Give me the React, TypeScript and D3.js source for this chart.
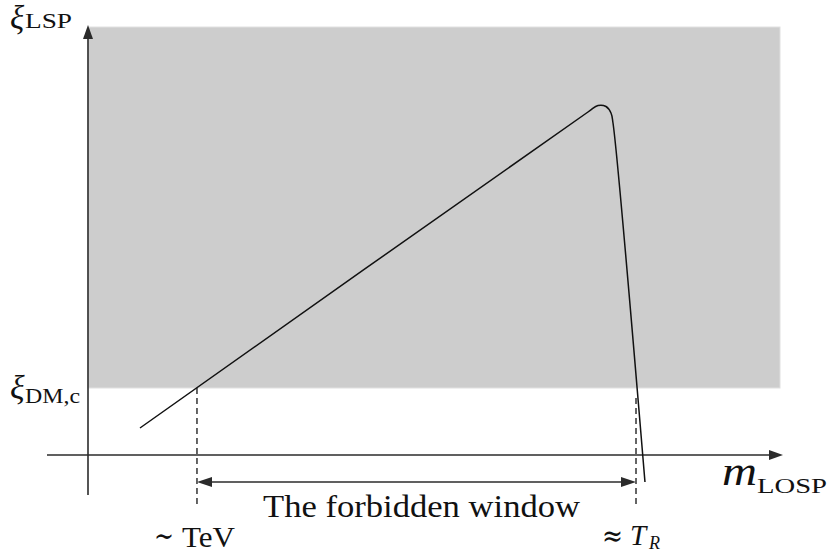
import React from "react";
import * as d3 from "d3";

// Data coordinates (axis units 0..100)
const curveX = [7.48, 71.94, 73.38, 74.53, 75.25, 75.54, 80.14];
const curveY = [6.28, 79.77, 81.28, 81.05, 79.53, 77.21, -6.28];
const regionX = [0, 99.57];
const regionY = [15.58, 99.53];
const windowX = [15.68, 78.85];
const labels = {
  window: "The forbidden window",
  low: "TeV",
};

const W = 828;
const H = 552;

export default function App() {
  const x = d3.scaleLinear().domain([0, 100]).range([88, 783]);
  const y = d3.scaleLinear().domain([0, 100]).range([455, 25]);
  const pts: [number, number][] = curveX.map((v, i) => [v, curveY[i]]);
  const line = d3
    .line<[number, number]>()
    .x((d) => x(d[0]))
    .y((d) => y(d[1]))
    .curve(d3.curveCatmullRom.alpha(0.5));
  const font = "'Liberation Serif', 'DejaVu Serif', serif";
  const sym = "'DejaVu Serif', serif";
  const ax = "#2b2b2b";
  const arrowY = 482;
  const xa = x(windowX[0]);
  const xb = x(windowX[1]);
  return (
    <svg
      width={W}
      height={H}
      style={{ position: "absolute", left: 0, top: 0, background: "#fff" }}
      fontFamily={font}
    >
      <rect
        x={x(regionX[0])}
        y={y(regionY[1])}
        width={x(regionX[1]) - x(regionX[0])}
        height={y(regionY[0]) - y(regionY[1])}
        fill="#cdcdcd"
        stroke="#e0e0e0"
        strokeWidth={1}
      />
      {/* axes */}
      <line x1={47} x2={772} y1={y(0)} y2={y(0)} stroke={ax} strokeWidth={1.6} />
      <path d={`M${783},${y(0)} L${769},${y(0) - 5} L${769},${y(0) + 5} Z`} fill={ax} />
      <line x1={x(0)} x2={x(0)} y1={495} y2={36} stroke={ax} strokeWidth={1.6} />
      <path d={`M${x(0)},25 L${x(0) - 5},39 L${x(0) + 5},39 Z`} fill={ax} />
      {/* dashed guides */}
      <line x1={xa} x2={xa} y1={y(regionY[0])} y2={508} stroke="#333" strokeWidth={1.5} strokeDasharray="6,4" />
      <line x1={xb} x2={xb} y1={398} y2={508} stroke="#333" strokeWidth={1.5} strokeDasharray="6,4" />
      {/* double arrow */}
      <line x1={xa + 12} x2={xb - 12} y1={arrowY} y2={arrowY} stroke={ax} strokeWidth={1.5} />
      <path d={`M${xa},${arrowY} L${xa + 15},${arrowY - 5} L${xa + 15},${arrowY + 5} Z`} fill={ax} />
      <path d={`M${xb},${arrowY} L${xb - 15},${arrowY - 5} L${xb - 15},${arrowY + 5} Z`} fill={ax} />
      {/* curve */}
      <path d={line(pts) || ""} fill="none" stroke="#111" strokeWidth={1.5} strokeLinejoin="round" />
      {/* labels */}
      <text x={10} y={29} fontSize={33} fontStyle="italic" fill="#111">ξ</text>
      <text x={25} y={28} fontSize={22} fill="#111" textLength={47} lengthAdjust="spacingAndGlyphs">LSP</text>
      <text x={10} y={399} fontSize={34} fontStyle="italic" fill="#111">ξ</text>
      <text x={25} y={403} fontSize={22} fill="#111" textLength={55} lengthAdjust="spacingAndGlyphs">DM,c</text>
      <text x={722} y={485} fontSize={40} fontStyle="italic" fill="#111" textLength={35} lengthAdjust="spacingAndGlyphs">m</text>
      <text x={757} y={493} fontSize={22} fill="#111" textLength={70} lengthAdjust="spacingAndGlyphs">LOSP</text>
      <text x={263} y={517} fontSize={32} fill="#111" textLength={317} lengthAdjust="spacingAndGlyphs">{labels.window}</text>
      <text x={154} y={546} fontSize={30} fontFamily={sym} fill="#111" textLength={20} lengthAdjust="spacingAndGlyphs">∼</text>
      <text x={182} y={547} fontSize={29} fill="#111" textLength={53} lengthAdjust="spacingAndGlyphs">{labels.low}</text>
      <text x={602} y={546} fontSize={30} fontFamily={sym} fill="#111" textLength={21} lengthAdjust="spacingAndGlyphs">≈</text>
      <text x={630} y={545} fontSize={29} fontStyle="italic" fill="#111">T</text>
      <text x={649} y={549} fontSize={18} fontStyle="italic" fill="#111">R</text>
    </svg>
  );
}
